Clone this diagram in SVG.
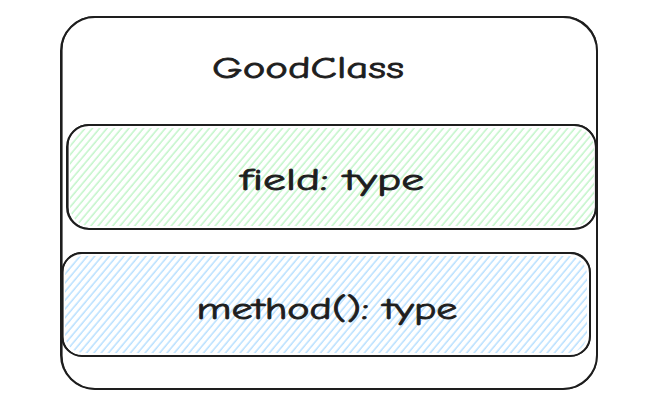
<svg xmlns="http://www.w3.org/2000/svg" width="646" height="416" viewBox="0 0 646 416">
  <style>
    .edge { fill: none; stroke: #1e1e1e; stroke-width: 2; stroke-linecap: round; stroke-linejoin: round; }
    .edge2 { fill: none; stroke: #1e1e1e; stroke-width: 1.2; stroke-linecap: round; stroke-linejoin: round; }
    .label { font-family: "Comic Neue", "Liberation Sans", "DejaVu Sans", sans-serif; fill: #1e1e1e; stroke: #1e1e1e; stroke-width: 0.8; text-anchor: middle; }
  </style>
  <defs>
    <pattern id="hatchGreen" patternUnits="userSpaceOnUse" width="5.6" height="12" patternTransform="rotate(40)">
      <line x1="2" y1="0" x2="2" y2="12" stroke="#b2f2bb" stroke-width="1.2"/>
    </pattern>
    <pattern id="hatchBlue" patternUnits="userSpaceOnUse" width="5.6" height="12" patternTransform="rotate(40)">
      <line x1="2" y1="0" x2="2" y2="12" stroke="#a5d8ff" stroke-width="1.2"/>
    </pattern>
  </defs>
  <rect width="646" height="416" fill="#ffffff"/>

  <g id="class-box">
    <rect class="edge" x="61" y="17" width="536" height="372" rx="34" ry="34"/>
    <rect class="edge2" x="62" y="16.5" width="535" height="372.5" rx="33" ry="33"/>
    <text class="label" x="308" y="78" font-size="31" textLength="192" lengthAdjust="spacingAndGlyphs">GoodClass</text>
  </g>

  <g id="fields">
    <rect x="70" y="128" width="524" height="98" rx="20" ry="20" fill="url(#hatchGreen)"/>
    <rect class="edge" x="67" y="125" width="529" height="104" rx="22" ry="22"/>
    <rect class="edge2" x="68" y="124.5" width="527.5" height="104" rx="21" ry="21"/>
    <text class="label" x="332" y="190" font-size="30" textLength="184" lengthAdjust="spacingAndGlyphs">field: type</text>
  </g>

  <g id="methods">
    <rect x="65" y="256" width="522" height="97" rx="19" ry="19" fill="url(#hatchBlue)"/>
    <rect class="edge" x="62" y="253" width="528" height="103" rx="20" ry="20"/>
    <rect class="edge2" x="63" y="252.5" width="527" height="103.5" rx="19" ry="19"/>
    <text class="label" x="327" y="319" font-size="30" textLength="261" lengthAdjust="spacingAndGlyphs">method(): type</text>
  </g>

  <g id="connectors"></g>
</svg>
